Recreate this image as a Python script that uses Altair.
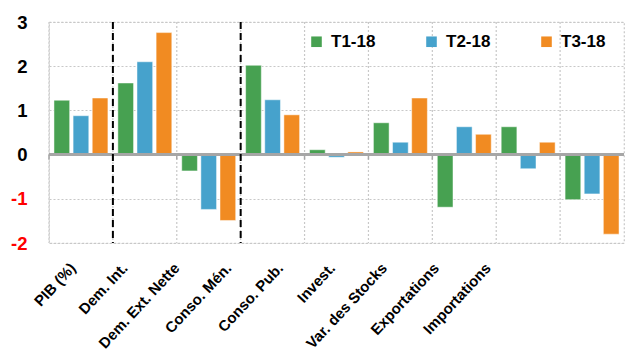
import altair as alt
import pandas as pd

cats = ["PIB (%)", "Dem. Int.", "Dem. Ext. Nette", "Conso. Mén.", "Conso. Pub.",
        "Invest.", "Var. des Stocks", "Exportations", "Importations"]
series = ["T1-18", "T2-18", "T3-18"]
t1 = [1.23, 1.62, -0.37, 2.02, 0.11, 0.72, -1.19, 0.63, -1.02]
t2 = [0.88, 2.10, -1.24, 1.24, -0.06, 0.28, 0.63, -0.32, -0.89]
t3 = [1.28, 2.76, -1.49, 0.90, 0.06, 1.28, 0.46, 0.28, -1.80]
colors = ["#47A151", "#46A2CC", "#F18B22"]
y_ticks = [-2, -1, 0, 1, 2, 3]
dashed_at = ["Dem. Int.", "Conso. Mén."]

rows = []
for s, vals in zip(series, [t1, t2, t3]):
    for c, v in zip(cats, vals):
        rows.append({"cat": c, "series": s, "value": v})
df = pd.DataFrame(rows)
cat_df = pd.DataFrame({"cat": cats})
dash_df = pd.DataFrame({"cat": dashed_at})

W, H = 575, 221
FONT = "Liberation Sans"

cat_list_js = "[" + ",".join("'" + c + "'" for c in cats) + "]"
label_offset = alt.expr("-8 - 12 * indexof(" + cat_list_js + ", datum.value)")

xscale = alt.Scale(domain=cats, paddingInner=0, paddingOuter=0)
yscale = alt.Scale(domain=[-2, 3], nice=False)

bars = alt.Chart(df).mark_bar(stroke="white", strokeWidth=0.8, strokeOpacity=0.6).encode(
    x=alt.X("cat:N", sort=cats, scale=xscale,
            axis=alt.Axis(title=None, labelAngle=-47, labelFont=FONT, labelFontSize=15,
                          labelFontWeight="bold", labelColor="black", ticks=False,
                          domain=False, grid=False, labelPadding=22, labelLimit=200,
                          labelOffset=label_offset)),
    xOffset=alt.XOffset("series:N", sort=series,
                        scale=alt.Scale(paddingInner=0.18, paddingOuter=0.26)),
    y=alt.Y("value:Q", scale=yscale,
            axis=alt.Axis(title=None, values=y_ticks, ticks=False, domain=False,
                          labelFont=FONT, labelFontSize=18.5, labelFontWeight="bold",
                          labelColor=alt.expr("datum.value < 0 ? '#FF0000' : '#000000'"),
                          labelExpr="datum.value + ''",
                          labelPadding=22, grid=True, gridColor="#C8C8C8",
                          gridDash=[2, 2], gridWidth=1.2)),
    color=alt.Color("series:N", sort=series,
                    scale=alt.Scale(domain=series, range=colors),
                    legend=alt.Legend(title=None, orient="none", direction="horizontal",
                                      legendX=259, legendY=11, symbolType="square",
                                      symbolSize=112, symbolStrokeWidth=0,
                                      labelFont=FONT, labelFontSize=17,
                                      labelFontWeight="bold", labelColor="black",
                                      labelOffset=6, columnPadding=47)),
)

vgrid = alt.Chart(cat_df).mark_rule(color="#C8C8C8", strokeDash=[2, 2], strokeWidth=1.2).encode(
    x=alt.X("cat:N", sort=cats, scale=xscale, bandPosition=0),
    y=alt.value(0), y2=alt.value(H),
)

zero = alt.Chart(cat_df).mark_rule(color="#A6A6A6", strokeWidth=2.5).encode(
    y=alt.value(H * 3 / 5),
    x=alt.value(0), x2=alt.value(W),
)

zticks = alt.Chart(cat_df).mark_rule(color="#A6A6A6", strokeWidth=1.5).encode(
    x=alt.X("cat:N", sort=cats, scale=xscale, bandPosition=0),
    y=alt.value(H * 3 / 5), y2=alt.value(H * 3 / 5 + 5),
)

dashed = alt.Chart(dash_df).mark_rule(color="black", strokeDash=[7, 4], strokeWidth=2).encode(
    x=alt.X("cat:N", sort=cats, scale=xscale, bandPosition=0),
    y=alt.value(0), y2=alt.value(H),
)

chart = alt.layer(vgrid, zticks, bars, zero, dashed).properties(
    width=W, height=H,
    autosize=alt.AutoSizeParams(type="none"),
    padding={"left": 49, "top": 22, "right": 6, "bottom": 120},
).configure_view(stroke="#C8C8C8", strokeDash=[2, 2], strokeWidth=1.2)

chart.save("out.html", embed_options={"renderer": "svg", "actions": False})
